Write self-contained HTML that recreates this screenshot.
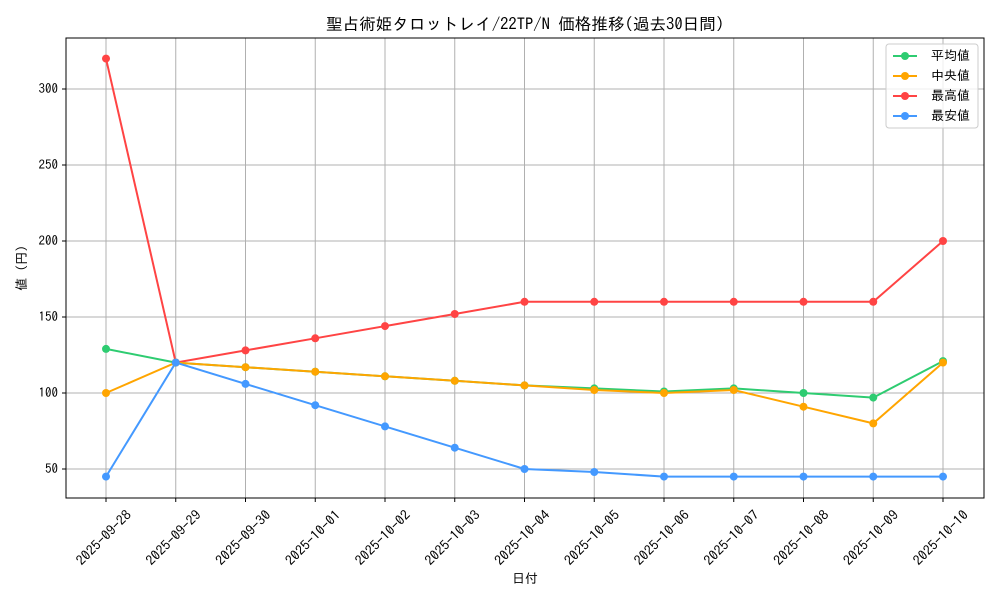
<!DOCTYPE html>
<html><head><meta charset="utf-8"><style>
body{margin:0;background:#fff}
svg text{font-family:"IPAGothic","Liberation Sans","Noto Sans CJK JP",sans-serif;fill:#000}
</style></head><body>
<svg width="1000" height="600" viewBox="0 0 1000 600" xmlns="http://www.w3.org/2000/svg">
<rect width="1000" height="600" fill="#fff"/>
<g stroke="#b0b0b0" stroke-width="1">
<line x1="106" y1="38" x2="106" y2="498"/><line x1="175.75" y1="38" x2="175.75" y2="498"/><line x1="245.5" y1="38" x2="245.5" y2="498"/><line x1="315.25" y1="38" x2="315.25" y2="498"/><line x1="385" y1="38" x2="385" y2="498"/><line x1="454.75" y1="38" x2="454.75" y2="498"/><line x1="524.5" y1="38" x2="524.5" y2="498"/><line x1="594.25" y1="38" x2="594.25" y2="498"/><line x1="664" y1="38" x2="664" y2="498"/><line x1="733.75" y1="38" x2="733.75" y2="498"/><line x1="803.5" y1="38" x2="803.5" y2="498"/><line x1="873.25" y1="38" x2="873.25" y2="498"/><line x1="943" y1="38" x2="943" y2="498"/>
<line x1="66" y1="469" x2="984" y2="469"/><line x1="66" y1="393" x2="984" y2="393"/><line x1="66" y1="317" x2="984" y2="317"/><line x1="66" y1="241" x2="984" y2="241"/><line x1="66" y1="165" x2="984" y2="165"/><line x1="66" y1="89" x2="984" y2="89"/>
</g>
<rect x="66" y="38" width="918" height="460" fill="none" stroke="#000" stroke-width="1"/>
<g stroke="#000"><line x1="62" y1="469" x2="66" y2="469"/><line x1="62" y1="393" x2="66" y2="393"/><line x1="62" y1="317" x2="66" y2="317"/><line x1="62" y1="241" x2="66" y2="241"/><line x1="62" y1="165" x2="66" y2="165"/><line x1="62" y1="89" x2="66" y2="89"/>
<line x1="106" y1="498" x2="106" y2="502"/><line x1="175.75" y1="498" x2="175.75" y2="502"/><line x1="245.5" y1="498" x2="245.5" y2="502"/><line x1="315.25" y1="498" x2="315.25" y2="502"/><line x1="385" y1="498" x2="385" y2="502"/><line x1="454.75" y1="498" x2="454.75" y2="502"/><line x1="524.5" y1="498" x2="524.5" y2="502"/><line x1="594.25" y1="498" x2="594.25" y2="502"/><line x1="664" y1="498" x2="664" y2="502"/><line x1="733.75" y1="498" x2="733.75" y2="502"/><line x1="803.5" y1="498" x2="803.5" y2="502"/><line x1="873.25" y1="498" x2="873.25" y2="502"/><line x1="943" y1="498" x2="943" y2="502"/></g>
<g font-size="13" text-anchor="end">
<text x="58" y="473">50</text><text x="58" y="397">100</text><text x="58" y="321">150</text><text x="58" y="245">200</text><text x="58" y="169">250</text><text x="58" y="93">300</text>
</g>
<g font-size="13.5" text-anchor="middle">
<text transform="translate(107,541) rotate(-45)" textLength="71" lengthAdjust="spacingAndGlyphs">2025-09-28</text>
<text transform="translate(176.75,541) rotate(-45)" textLength="71" lengthAdjust="spacingAndGlyphs">2025-09-29</text>
<text transform="translate(246.5,541) rotate(-45)" textLength="71" lengthAdjust="spacingAndGlyphs">2025-09-30</text>
<text transform="translate(316.25,541) rotate(-45)" textLength="71" lengthAdjust="spacingAndGlyphs">2025-10-01</text>
<text transform="translate(386,541) rotate(-45)" textLength="71" lengthAdjust="spacingAndGlyphs">2025-10-02</text>
<text transform="translate(455.75,541) rotate(-45)" textLength="71" lengthAdjust="spacingAndGlyphs">2025-10-03</text>
<text transform="translate(525.5,541) rotate(-45)" textLength="71" lengthAdjust="spacingAndGlyphs">2025-10-04</text>
<text transform="translate(595.25,541) rotate(-45)" textLength="71" lengthAdjust="spacingAndGlyphs">2025-10-05</text>
<text transform="translate(665,541) rotate(-45)" textLength="71" lengthAdjust="spacingAndGlyphs">2025-10-06</text>
<text transform="translate(734.75,541) rotate(-45)" textLength="71" lengthAdjust="spacingAndGlyphs">2025-10-07</text>
<text transform="translate(804.5,541) rotate(-45)" textLength="71" lengthAdjust="spacingAndGlyphs">2025-10-08</text>
<text transform="translate(874.25,541) rotate(-45)" textLength="71" lengthAdjust="spacingAndGlyphs">2025-10-09</text>
<text transform="translate(944,541) rotate(-45)" textLength="71" lengthAdjust="spacingAndGlyphs">2025-10-10</text>
</g>
<text x="525" y="30" font-size="16.6" text-anchor="middle">聖占術姫タロットレイ/22TP/N 価格推移(過去30日間)</text>
<text x="525" y="583" font-size="13" text-anchor="middle">日付</text>
<text transform="translate(26,268) rotate(-90)" font-size="13" text-anchor="middle">値 (円)</text>
<g fill="none" stroke-width="2">
<polyline stroke="#ff4444" points="106,58.6 175.75,362.6 245.5,350.4 315.25,338.3 385,326.1 454.75,314 524.5,301.8 594.25,301.8 664,301.8 733.75,301.8 803.5,301.8 873.25,301.8 943,241"/>
<polyline stroke="#2ecc71" points="106,348.9 175.75,362.6 245.5,367.2 315.25,371.7 385,376.3 454.75,380.8 524.5,385.4 594.25,388.4 664,391.5 733.75,388.4 803.5,393 873.25,397.6 943,361.1"/>
<polyline stroke="#ffa500" points="106,393 175.75,362.6 245.5,367.2 315.25,371.7 385,376.3 454.75,380.8 524.5,385.4 594.25,390 664,393 733.75,390 803.5,406.7 873.25,423.4 943,362.6"/>
<polyline stroke="#4499ff" points="106,476.6 175.75,362.6 245.5,383.9 315.25,405.2 385,426.4 454.75,447.7 524.5,469 594.25,472 664,476.6 733.75,476.6 803.5,476.6 873.25,476.6 943,476.6"/>
</g>
<g fill="#ff4444"><circle cx="106" cy="58.6" r="4"/><circle cx="175.75" cy="362.6" r="4"/><circle cx="245.5" cy="350.4" r="4"/><circle cx="315.25" cy="338.3" r="4"/><circle cx="385" cy="326.1" r="4"/><circle cx="454.75" cy="314" r="4"/><circle cx="524.5" cy="301.8" r="4"/><circle cx="594.25" cy="301.8" r="4"/><circle cx="664" cy="301.8" r="4"/><circle cx="733.75" cy="301.8" r="4"/><circle cx="803.5" cy="301.8" r="4"/><circle cx="873.25" cy="301.8" r="4"/><circle cx="943" cy="241" r="4"/></g>
<g fill="#2ecc71"><circle cx="106" cy="348.9" r="4"/><circle cx="175.75" cy="362.6" r="4"/><circle cx="245.5" cy="367.2" r="4"/><circle cx="315.25" cy="371.7" r="4"/><circle cx="385" cy="376.3" r="4"/><circle cx="454.75" cy="380.8" r="4"/><circle cx="524.5" cy="385.4" r="4"/><circle cx="594.25" cy="388.4" r="4"/><circle cx="664" cy="391.5" r="4"/><circle cx="733.75" cy="388.4" r="4"/><circle cx="803.5" cy="393" r="4"/><circle cx="873.25" cy="397.6" r="4"/><circle cx="943" cy="361.1" r="4"/></g>
<g fill="#ffa500"><circle cx="106" cy="393" r="4"/><circle cx="175.75" cy="362.6" r="4"/><circle cx="245.5" cy="367.2" r="4"/><circle cx="315.25" cy="371.7" r="4"/><circle cx="385" cy="376.3" r="4"/><circle cx="454.75" cy="380.8" r="4"/><circle cx="524.5" cy="385.4" r="4"/><circle cx="594.25" cy="390" r="4"/><circle cx="664" cy="393" r="4"/><circle cx="733.75" cy="390" r="4"/><circle cx="803.5" cy="406.7" r="4"/><circle cx="873.25" cy="423.4" r="4"/><circle cx="943" cy="362.6" r="4"/></g>
<g fill="#4499ff"><circle cx="106" cy="476.6" r="4"/><circle cx="175.75" cy="362.6" r="4"/><circle cx="245.5" cy="383.9" r="4"/><circle cx="315.25" cy="405.2" r="4"/><circle cx="385" cy="426.4" r="4"/><circle cx="454.75" cy="447.7" r="4"/><circle cx="524.5" cy="469" r="4"/><circle cx="594.25" cy="472" r="4"/><circle cx="664" cy="476.6" r="4"/><circle cx="733.75" cy="476.6" r="4"/><circle cx="803.5" cy="476.6" r="4"/><circle cx="873.25" cy="476.6" r="4"/><circle cx="943" cy="476.6" r="4"/></g>
<rect x="886" y="44" width="92" height="84" rx="3" fill="#fff" fill-opacity="0.8" stroke="#ccc"/>
<g stroke-width="2">
<line x1="893" y1="56" x2="917" y2="56" stroke="#2ecc71"/><circle cx="905" cy="56" r="4" fill="#2ecc71"/>
<line x1="893" y1="76" x2="917" y2="76" stroke="#ffa500"/><circle cx="905" cy="76" r="4" fill="#ffa500"/>
<line x1="893" y1="96" x2="917" y2="96" stroke="#ff4444"/><circle cx="905" cy="96" r="4" fill="#ff4444"/>
<line x1="893" y1="116" x2="917" y2="116" stroke="#4499ff"/><circle cx="905" cy="116" r="4" fill="#4499ff"/>
</g>
<g font-size="13">
<text x="931" y="60">平均値</text><text x="931" y="80"> 中央値</text><text x="931" y="100">最高値</text><text x="931" y="120">最安値</text>
</g>
</svg>
</body></html>
